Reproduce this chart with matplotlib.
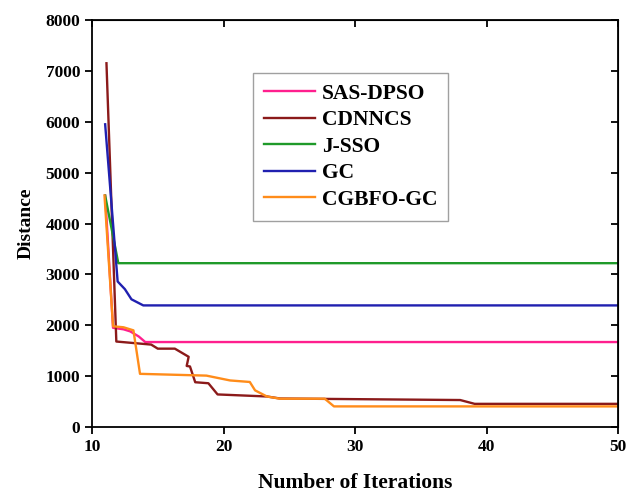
import numpy as np
import matplotlib.pyplot as plt

plt.rcParams['font.family'] = ['Liberation Serif', 'DejaVu Serif']
plt.rcParams['font.weight'] = 'bold'

# curves (iteration, distance)
sas_x = [11, 11.6, 12.4, 12.9, 13.55, 14.05, 50]
sas_y = [4550, 1950, 1920, 1880, 1780, 1670, 1670]

cdn_x = [11.1, 11.85, 14.5, 15.0, 16.3, 17.35, 17.2, 17.45, 17.85, 18.85, 19.55, 23.3, 24.3, 38.0, 39.1, 50]
cdn_y = [7150, 1680, 1620, 1540, 1540, 1380, 1200, 1190, 880, 860, 640, 600, 560, 530, 455, 455]

jsso_x = [11, 12.0, 50]
jsso_y = [4550, 3220, 3220]

gc_x = [11, 11.95, 12.5, 13.0, 13.9, 50]
gc_y = [5950, 2860, 2710, 2510, 2390, 2390]

cgb_x = [10.95, 11.6, 12.4, 13.15, 13.65, 18.7, 20.5, 22.0, 22.4, 23.3, 24.3, 27.7, 28.4, 50]
cgb_y = [4550, 1980, 1960, 1900, 1045, 1010, 915, 885, 720, 600, 556, 556, 405, 405]

fig = plt.figure(figsize=(6.27, 4.93), dpi=100)
ax = fig.add_axes([92 / 627, 1 - 427 / 493, (618 - 92) / 627, (427 - 20) / 493])

lw = 1.7
ax.plot(sas_x, sas_y, color='#ff1f8e', lw=lw, label='SAS-DPSO')
ax.plot(cdn_x, cdn_y, color='#8b1a1a', lw=lw, label='CDNNCS')
ax.plot(jsso_x, jsso_y, color='#1f9a2a', lw=lw, label='J-SSO')
ax.plot(gc_x, gc_y, color='#2020b0', lw=lw, label='GC')
ax.plot(cgb_x, cgb_y, color='#ff8c1a', lw=lw, label='CGBFO-GC')

ax.set_xlim(10, 50)
ax.set_ylim(0, 8000)
ax.set_xticks([10, 20, 30, 40, 50])
ax.set_yticks(np.arange(0, 8001, 1000))
ax.tick_params(direction='out', length=5, width=1.3, labelsize=12.5)
for s in ax.spines.values():
    s.set_linewidth(1.3)

top = ax.secondary_xaxis('top')
top.set_xticks([10, 20, 30, 40, 50])
top.tick_params(direction='in', length=5, width=1.3, labeltop=False)
right = ax.secondary_yaxis('right')
right.set_yticks(np.arange(0, 8001, 1000))
right.tick_params(direction='in', length=5, width=1.3, labelright=False)

ax.set_xlabel('Number of Iterations', fontsize=15.5, fontweight='bold', labelpad=13)
ax.set_ylabel('Distance', fontsize=14, fontweight='bold', labelpad=8)

leg = ax.legend(loc='upper left', bbox_to_anchor=(253 / 627, 1 - 73 / 493),
                bbox_transform=fig.transFigure, fontsize=15.5, frameon=True,
                fancybox=False, edgecolor='#888888', handlelength=2.4,
                handletextpad=0.3, borderpad=0.5, labelspacing=0.3,
                borderaxespad=0)
leg.get_frame().set_linewidth(1.0)

fig.savefig('out.png', dpi=100)
